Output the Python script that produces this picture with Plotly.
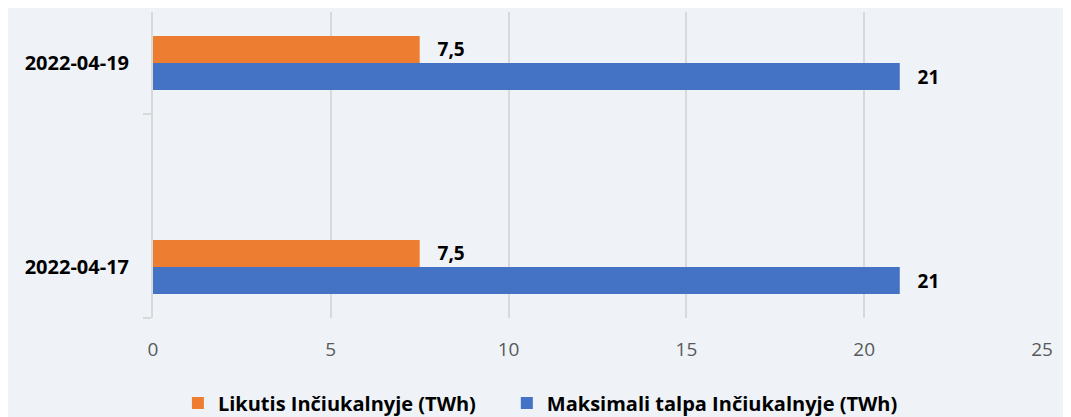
import plotly.graph_objects as go

categories = ["2022-04-17", "2022-04-19"]
likutis = [7.5, 7.5]
maks_talpa = [21, 21]
series_names = ["Likutis Inčiukalnyje (TWh)", "Maksimali talpa Inčiukalnyje (TWh)"]
x_ticks = [0, 5, 10, 15, 20, 25]

DAY = 86400000
BAR_W = 0.265 * DAY
FONT = "Open Sans"
PAD = "\u00a0\u00a0\u00a0"

def fmt(v):
    return PAD + f"{v:g}".replace(".", ",")

label_font = dict(family=FONT, size=19, color="#000000", weight="bold")

fig = go.Figure()
fig.add_trace(go.Bar(
    y=categories, x=likutis, orientation="h", name=series_names[0],
    marker=dict(color="#ED7D31", line=dict(width=0)), width=BAR_W, offset=0,
    text=[fmt(v) for v in likutis], textposition="outside",
    textfont=label_font, cliponaxis=False, legend="legend",
))
fig.add_trace(go.Bar(
    y=categories, x=maks_talpa, orientation="h", name=series_names[1],
    marker=dict(color="#4472C4", line=dict(width=0)), width=BAR_W, offset=-BAR_W,
    text=[fmt(v) for v in maks_talpa], textposition="outside",
    textfont=label_font, cliponaxis=False, legend="legend2",
))

legend_common = dict(
    orientation="h", xanchor="left", y=-0.278, yanchor="middle",
    font=dict(family=FONT, size=20, color="#000000", weight="bold"),
    itemwidth=30, bgcolor="rgba(0,0,0,0)",
)

fig.update_layout(
    width=1071, height=417,
    paper_bgcolor="#EFF3F7", plot_bgcolor="#EFF3F7",
    barmode="overlay",
    margin=dict(l=145, r=37, t=4, b=107, autoexpand=False),
    font=dict(family=FONT, size=19, color="#595959"),
    xaxis=dict(
        range=[0, 25], tickvals=x_ticks, ticktext=[str(t) for t in x_ticks],
        showgrid=True, gridcolor="#D9D9D9", gridwidth=2, zeroline=False,
        showline=False, ticks="", ticklabelstandoff=18,
        tickfont=dict(family=FONT, size=19, color="#595959"),
    ),
    yaxis=dict(
        type="date",
        range=["2022-04-16 12:00", "2022-04-19 12:00"],
        tickvals=categories, ticktext=categories,
        tickfont=dict(family=FONT, size=20, color="#000000", weight="bold"),
        showgrid=False, zeroline=False,
        showline=True, linecolor="#D9D9D9", linewidth=2,
        ticks="", ticklabelstandoff=18,
        minor=dict(tickvals=["2022-04-16 12:00", "2022-04-18 12:00"],
                   ticks="outside", ticklen=8, tickcolor="#D9D9D9", tickwidth=2,
                   showgrid=False),
    ),
    legend=dict(x=0.028, **legend_common),
    legend2=dict(x=0.398, **legend_common),
    showlegend=True,
)

fig.write_html("out.html")
